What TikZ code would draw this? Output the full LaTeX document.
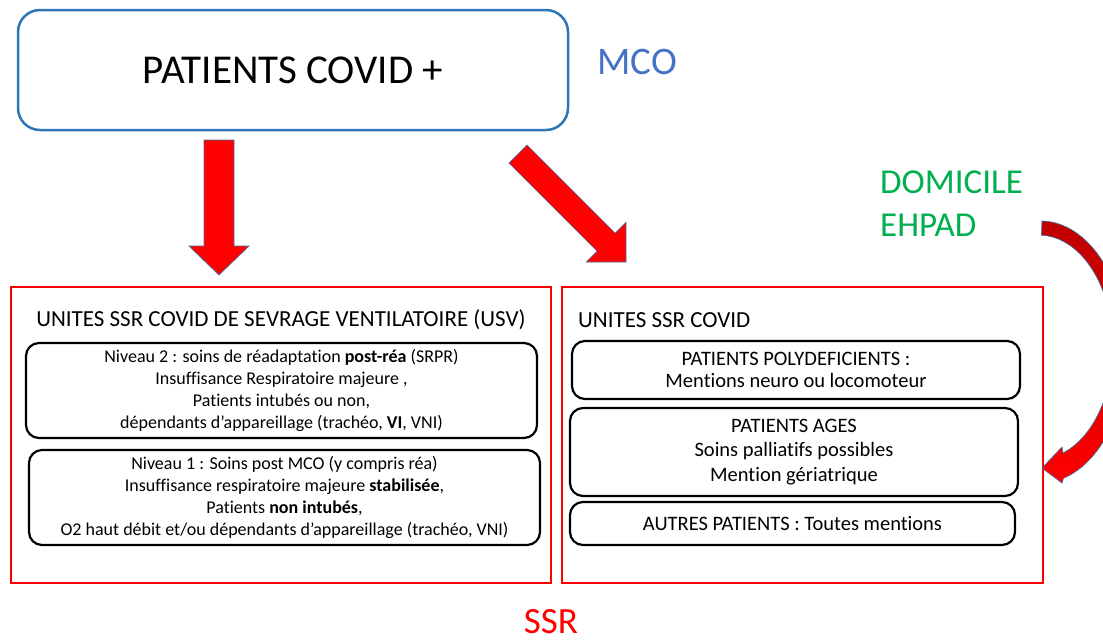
\documentclass[tikz,border=0pt]{standalone}
\usepackage{fontspec}
\setmainfont{Carlito}[Ligatures=NoCommon]
\definecolor{boxblue}{HTML}{2E75B6}
\definecolor{mcoblue}{HTML}{4472C4}
\definecolor{homegreen}{HTML}{00B050}
\definecolor{ssrred}{HTML}{FF0000}
\definecolor{darkred}{HTML}{C00000}
\definecolor{arrowline}{HTML}{41719C}
\tikzset{
  frame/.style={draw=ssrred, line width=2pt, minimum width=#1, inner sep=0pt},
  unitbox/.style={draw=black, line width=2.2pt, rounded corners=13pt, align=center, inner sep=0pt},
  lefttxt/.style={font=\fontsize{18}{22}\selectfont},
  righttxt/.style={font=\fontsize{20.5}{23}\selectfont},
  blockarrow/.style={fill=ssrred, draw=arrowline, line width=0.7pt, line join=miter},
}
\begin{document}
\begin{tikzpicture}[x=1pt,y=-1pt]
\useasboundingbox (0,0) rectangle (1103,641);
% top box
\node[draw=boxblue, line width=2.5pt, rounded corners=22pt, minimum width=550pt, minimum height=120pt,
      font=\fontsize{41}{48}\selectfont] (covid) at (293,70) {PATIENTS COVID +};
\node[text=mcoblue, font=\fontsize{39}{46}\selectfont] (mco) at (637,62) {MCO};
\node[text=homegreen, font=\fontsize{35}{42}\selectfont, anchor=west, inner sep=0pt] (dom) at (880,182) {DOMICILE};
\node[text=homegreen, font=\fontsize{35}{42}\selectfont, anchor=west, inner sep=0pt] (ehpad) at (880,225) {EHPAD};
% frames
\node[frame=540pt, minimum height=296pt] (usv) at (281,435) {};
\node[frame=481pt, minimum height=296pt] (ssrcovid) at (802.5,435) {};
\node[font=\fontsize{23}{28}\selectfont] (usvtitle) at (281,320) {UNITES SSR COVID DE SEVRAGE VENTILATOIRE (USV)};
\node[font=\fontsize{23}{28}\selectfont, anchor=west, inner sep=0pt] (ssrtitle) at (578,320) {UNITES SSR COVID};
% left unit boxes
\node[unitbox, lefttxt, minimum width=511pt, minimum height=95pt] (niv2) at (281.5,390.5)
  {Niveau 2 : soins de réadaptation \textbf{post-réa} (SRPR)\\
   Insuffisance Respiratoire majeure ,\\
   Patients intubés ou non,\\
   dépendants d’appareillage (trachéo, \textbf{VI}, VNI)};
\node[unitbox, lefttxt, minimum width=511pt, minimum height=95pt] (niv1) at (284.5,497.5)
  {Niveau 1 : Soins post MCO (y compris réa)\\
   Insuffisance respiratoire majeure \textbf{stabilisée},\\
   Patients \textbf{non intubés},\\
   O2 haut débit et/ou dépendants d’appareillage (trachéo, VNI)};
% right unit boxes
\node[unitbox, righttxt, font=\fontsize{20.5}{22}\selectfont, minimum width=448pt, minimum height=58pt] (poly) at (796,370)
  {PATIENTS POLYDEFICIENTS :\\ Mentions neuro ou locomoteur};
\node[unitbox, righttxt, font=\fontsize{20.5}{24.5}\selectfont, minimum width=448pt, minimum height=88pt] (ages) at (794,452)
  {PATIENTS AGES\\ Soins palliatifs possibles\\ Mention gériatrique};
\node[unitbox, righttxt, minimum width=445pt, minimum height=43pt] (autres) at (792.5,523.5)
  {AUTRES PATIENTS : Toutes mentions};
\node[text=ssrred, font=\fontsize{37}{44}\selectfont] (ssr) at (551,622) {SSR};
% block arrows
\draw[blockarrow] (204,140) -- (234,140) -- (234,246) -- (249,246) -- (219,275) -- (189,246) -- (204,246) -- cycle;
\draw[blockarrow] (527,145) -- (615.2,233.2) -- (626,222.4) -- (626,262) -- (586.4,262) -- (597.2,251.2) -- (509,163) -- cycle;
% curved arrow
\begin{scope}
\clip (0,0) rectangle (1103,641);
\shade[top color=darkred, bottom color=ssrred, middle color=darkred!60!ssrred, draw=arrowline, line width=0.7pt]
  (1042,221) arc[start angle=-89, end angle=74.5, x radius=86, y radius=131]
  -- (1062,483) -- (1042,468) -- (1062,447) -- (1063,453)
  arc[start angle=71, end angle=-88, x radius=74, y radius=112] -- cycle;
\end{scope}
\end{tikzpicture}
\end{document}
